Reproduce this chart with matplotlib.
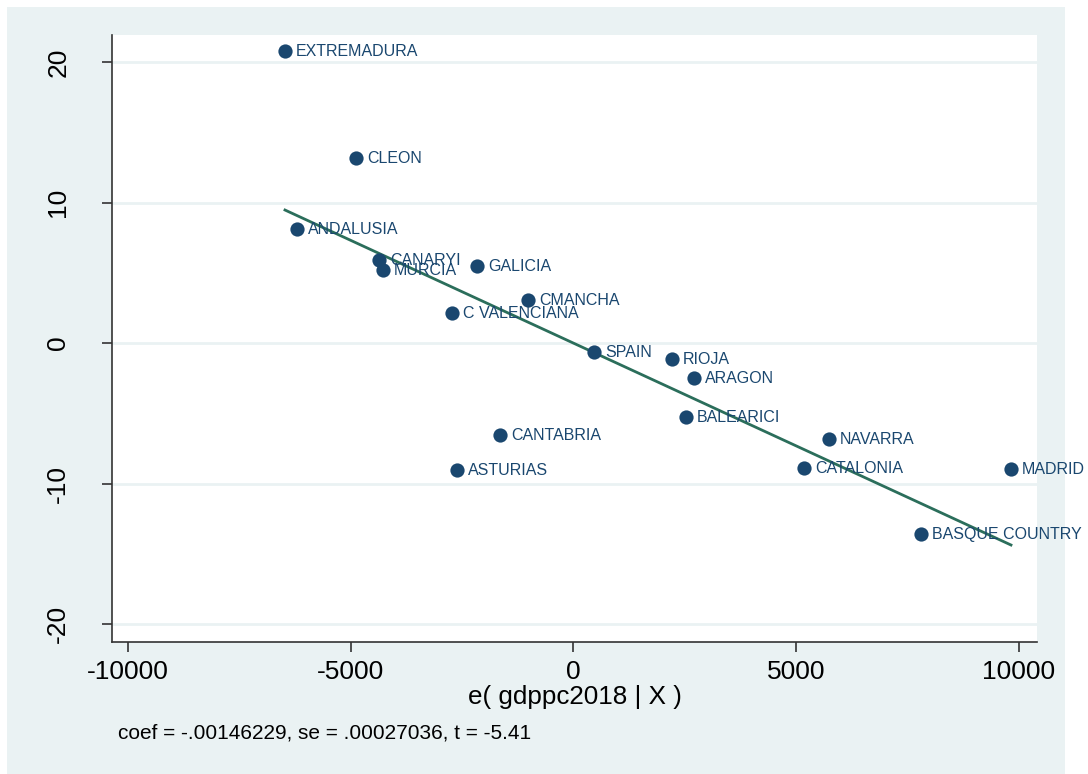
import numpy as np
import matplotlib
matplotlib.use("Agg")
import matplotlib.pyplot as plt
from matplotlib.patches import Rectangle

plt.rcParams['font.family'] = ['Liberation Sans', 'DejaVu Sans']
plt.rcParams['axes.unicode_minus'] = False

# added-variable plot data (residuals)
regions = ['EXTREMADURA', 'CLEON', 'ANDALUSIA', 'CANARYI', 'MURCIA', 'GALICIA',
           'CMANCHA', 'C VALENCIANA', 'SPAIN', 'RIOJA', 'ARAGON', 'BALEARICI',
           'CANTABRIA', 'NAVARRA', 'ASTURIAS', 'CATALONIA', 'MADRID', 'BASQUE COUNTRY']
e_gdppc = [-6476, -4882, -6207, -4366, -4276, -2166,
           -1021, -2727, 460, 2211, 2705, 2525,
           -1650, 5735, -2615, 5174, 9820, 7800]
e_y = [20.78, 13.17, 8.11, 5.91, 5.20, 5.48,
       3.06, 2.14, -0.64, -1.14, -2.49, -5.27,
       -6.55, -6.83, -9.04, -8.90, -8.97, -13.59]
coef = -0.00146229
note = 'coef = -.00146229, se = .00027036, t = -5.41'
xticks = [-10000, -5000, 0, 5000, 10000]
yticks = [-20, -10, 0, 10, 20]

navy = '#1a476f'
bg = '#eaf2f3'
line_col = '#2b6e5b'

fig = plt.figure(figsize=(10.88, 7.74), dpi=100, facecolor='white')
W, H = 1088, 774
fig.patches.append(Rectangle((7 / W, 0), (1065 - 7) / W, (H - 7) / H,
                             transform=fig.transFigure, facecolor=bg,
                             edgecolor='none', zorder=-10))

ax = fig.add_axes([112 / W, 1 - 642 / H, (1037 - 112) / W, (642 - 35) / H])
ax.set_zorder(1)
ax.set_facecolor('white')
ax.set_xlim(-10359, 10404)
ax.set_ylim(-21.26, 21.92)

for yt in yticks:
    ax.axhline(yt, color=bg, lw=2, zorder=1)

xs = np.array([min(e_gdppc), max(e_gdppc)])
ax.plot(xs, coef * xs, color=line_col, lw=2, zorder=2)

ax.scatter(e_gdppc, e_y, s=105, color=navy, zorder=3, linewidths=0)
for name, x, y in zip(regions, e_gdppc, e_y):
    ax.annotate(name, (x, y), xytext=(8, 0), textcoords='offset points',
                ha='left', va='center', fontsize=11.5, color=navy, zorder=4)

for s in ['top', 'right']:
    ax.spines[s].set_visible(False)
for s in ['left', 'bottom']:
    ax.spines[s].set_color('#333333')
    ax.spines[s].set_linewidth(1.2)

ax.set_xticks(xticks)
ax.set_yticks(yticks)
ax.tick_params(axis='x', length=7, width=1.2, color='#333333', labelsize=19, pad=6)
ax.tick_params(axis='y', length=7, width=1.2, color='#333333', labelsize=19, pad=23)
for lab in ax.get_yticklabels():
    lab.set_rotation(90)
    lab.set_va('center')

ax.set_xlabel('e( gdppc2018 | X )', fontsize=18.7, labelpad=1)
fig.text(118 / W, 1 - 733 / H, note, fontsize=15, ha='left', va='center')

fig.savefig('out.png', dpi=100, facecolor=fig.get_facecolor())
